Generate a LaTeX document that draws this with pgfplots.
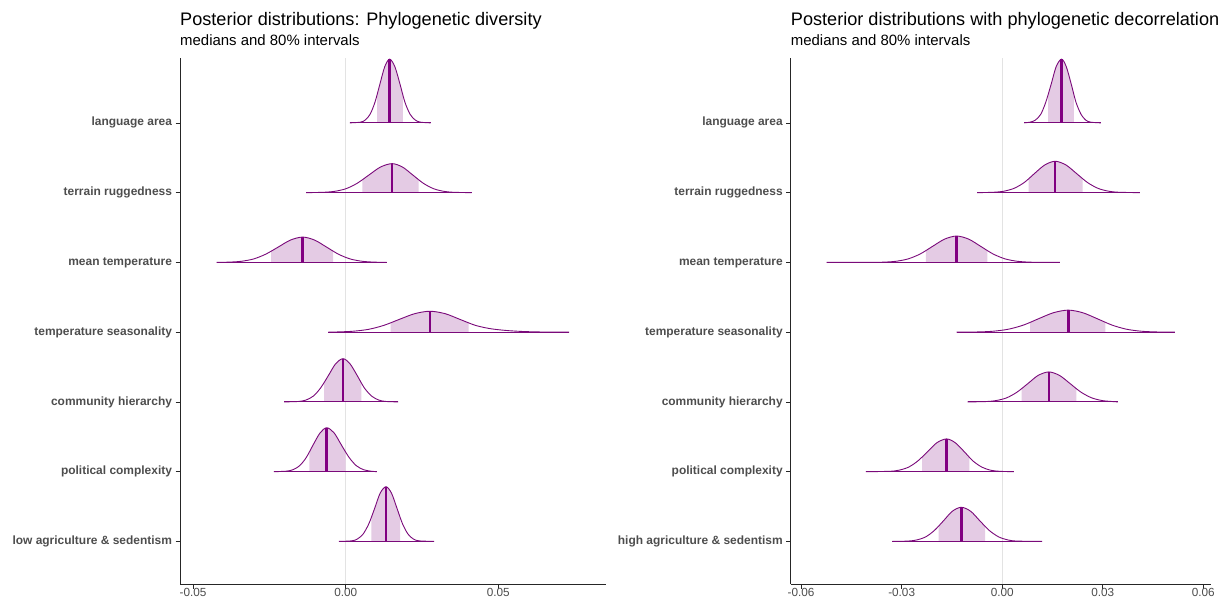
\documentclass[border=0pt]{standalone}
\usepackage{fontspec}
\setmainfont{Liberation Sans}
\usepackage{pgfplots}
\pgfplotsset{compat=1.18}
\definecolor{dens}{HTML}{7A0A7A}
\definecolor{med}{HTML}{800080}
\definecolor{fillc}{HTML}{E4CBE4}
\definecolor{tickc}{HTML}{4D4D4D}
\definecolor{zeroc}{HTML}{E3E3E3}
% #1 base, #2 extL, #3 extR, #4 median, #5 peak, #6 curve, #7 80% interval area
\newcommand\ridge[7]{%
  \addplot[fill=fillc, draw=none] coordinates {#7} -- cycle;
  \addplot[color=dens, line width=0.9bp, smooth] coordinates {#6};
  \addplot[color=dens, line width=1.1bp] coordinates {(#2,#1) (#3,#1)};
  \addplot[color=med, line width=2.6bp] coordinates {(#4,#1) (#4,#5)};
}
\pgfplotsset{
  ridge/.style={
    scale only axis, height=526bp, ymin=0.39, ymax=7.93,
    anchor=south west,
    axis x line*=bottom, axis y line*=left,
    axis line style={-, line width=0.7bp, color=black!85},
    ytick={1,2,3,4,5,6,7},
    yticklabels={low agriculture \& sedentism, political complexity, community hierarchy, temperature seasonality, mean temperature, terrain ruggedness, language area},
    yticklabel style={font=\bfseries\fontsize{12}{13}\selectfont, text=tickc},
    xticklabel style={font=\fontsize{11.8}{13}\selectfont, text=tickc, inner sep=0pt},
    scaled x ticks=false,
    tick style={black!85, line width=0.6bp},
    tick align=outside, major tick length=4.5bp,
    /pgf/number format/assume math mode=true,
    clip=false,
  }
}
\begin{document}
\begin{tikzpicture}
\useasboundingbox (0,0) rectangle (1225bp,603bp);
\begin{axis}[ridge, at={(180bp,19bp)}, width=426bp, xmin=-0.0543, xmax=0.0853,
  xtick={-0.05,0,0.05}, xticklabels={-0.05,0.00,0.05}]
\addplot[zeroc, line width=0.6bp] coordinates {(0,0.39) (0,7.93)};
\ridge{7}{0.0014}{0.0278}{0.0144}{7.914}{(0.0014,7) (0.0048,7.0101) (0.0064,7.0401) (0.0080,7.1237) (0.0096,7.2968) (0.0112,7.5543) (0.0128,7.8066) (0.0144,7.914) (0.0161,7.8066) (0.0178,7.5543) (0.0194,7.2968) (0.0211,7.1237) (0.0228,7.0401) (0.0245,7.0101) (0.0278,7)}{(0.0103,7) (0.0103,7.4021) (0.0112,7.5543) (0.0120,7.6899) (0.0128,7.8066) (0.0136,7.8858) (0.0144,7.914) (0.0152,7.8858) (0.0161,7.8066) (0.0169,7.6899) (0.0178,7.5543) (0.0187,7.4021) (0.0187,7)}
\ridge{6}{-0.0130}{0.0413}{0.0152}{6.416}{(-0.0130,6) (-0.0075,6.0046) (-0.0037,6.0183) (0.0001,6.0563) (0.0038,6.1351) (0.0076,6.2523) (0.0114,6.3671) (0.0152,6.416) (0.0186,6.3671) (0.0220,6.2523) (0.0254,6.1351) (0.0288,6.0563) (0.0322,6.0183) (0.0356,6.0046) (0.0413,6)}{(0.0055,6) (0.0055,6.1830) (0.0076,6.2523) (0.0095,6.3140) (0.0114,6.3671) (0.0133,6.4032) (0.0152,6.416) (0.0169,6.4032) (0.0186,6.3671) (0.0203,6.3140) (0.0220,6.2523) (0.0239,6.1830) (0.0239,6)}
\ridge{5}{-0.0423}{0.0134}{-0.0141}{5.363}{(-0.0423,5) (-0.0382,5.0040) (-0.0342,5.0159) (-0.0302,5.0491) (-0.0262,5.1179) (-0.0221,5.2202) (-0.0181,5.3203) (-0.0141,5.363) (-0.0102,5.3203) (-0.0063,5.2202) (-0.0024,5.1179) (0.0015,5.0491) (0.0054,5.0159) (0.0093,5.0040) (0.0134,5)}{(-0.0244,5) (-0.0244,5.1597) (-0.0221,5.2202) (-0.0201,5.2740) (-0.0181,5.3203) (-0.0161,5.3518) (-0.0141,5.363) (-0.0122,5.3518) (-0.0102,5.3203) (-0.0083,5.2740) (-0.0063,5.2202) (-0.0041,5.1597) (-0.0041,5)}
\ridge{4}{-0.0057}{0.0732}{0.0276}{4.30}{(-0.0057,4) (-0.0026,4.0033) (0.0024,4.0132) (0.0075,4.0406) (0.0125,4.0974) (0.0175,4.1820) (0.0226,4.2648) (0.0276,4.30) (0.0326,4.2648) (0.0375,4.1820) (0.0425,4.0974) (0.0474,4.050) (0.0524,4.025) (0.0573,4.011) (0.0623,4.004) (0.0672,4.0013) (0.0732,4)}{(0.0147,4) (0.0147,4.1320) (0.0175,4.1820) (0.0200,4.2264) (0.0226,4.2648) (0.0251,4.2908) (0.0276,4.30) (0.0301,4.2908) (0.0326,4.2648) (0.0350,4.2264) (0.0375,4.1820) (0.0403,4.1320) (0.0403,4)}
\ridge{3}{-0.0202}{0.0172}{-0.0009}{3.62}{(-0.0202,3) (-0.0154,3.0069) (-0.0130,3.0272) (-0.0106,3.0839) (-0.0082,3.2013) (-0.0057,3.3760) (-0.0033,3.5472) (-0.0009,3.62) (0.0014,3.5472) (0.0038,3.3760) (0.0061,3.2013) (0.0085,3.0839) (0.0108,3.0272) (0.0131,3.0069) (0.0172,3)}{(-0.0071,3) (-0.0071,3.2727) (-0.0057,3.3760) (-0.0045,3.4680) (-0.0033,3.5472) (-0.0021,3.6009) (-0.0009,3.62) (0.0003,3.6009) (0.0014,3.5472) (0.0026,3.4680) (0.0038,3.3760) (0.0051,3.2727) (0.0051,3)}
\ridge{2}{-0.0235}{0.0102}{-0.0062}{2.63}{(-0.0235,2) (-0.0196,2.0070) (-0.0173,2.0277) (-0.0151,2.0852) (-0.0129,2.2046) (-0.0107,2.3821) (-0.0084,2.5560) (-0.0062,2.63) (-0.0038,2.5560) (-0.0014,2.3821) (0.0011,2.2046) (0.0035,2.0852) (0.0059,2.0277) (0.0083,2.0070) (0.0102,2)}{(-0.0119,2) (-0.0119,2.2771) (-0.0107,2.3821) (-0.0095,2.4755) (-0.0084,2.5560) (-0.0073,2.6106) (-0.0062,2.63) (-0.0050,2.6106) (-0.0038,2.5560) (-0.0026,2.4755) (-0.0014,2.3821) (0.0000,2.2771) (0.0000,2)}
\ridge{1}{-0.0022}{0.0290}{0.0132}{1.785}{(-0.0022,1) (0.0020,1.0087) (0.0038,1.0345) (0.0057,1.1062) (0.0076,1.2549) (0.0095,1.4761) (0.0113,1.6928) (0.0132,1.785) (0.0150,1.6928) (0.0168,1.4761) (0.0186,1.2549) (0.0204,1.1062) (0.0222,1.0345) (0.0240,1.0087) (0.0290,1)}{(0.0084,1) (0.0084,1.3453) (0.0095,1.4761) (0.0104,1.5925) (0.0113,1.6928) (0.0123,1.7608) (0.0132,1.785) (0.0141,1.7608) (0.0150,1.6928) (0.0159,1.5925) (0.0168,1.4761) (0.0178,1.3453) (0.0178,1)}
\end{axis}
\begin{axis}[ridge, at={(790.7bp,19bp)}, width=420bp, xmin=-0.0631, xmax=0.0622,
  xtick={-0.06,-0.03,0,0.03,0.06}, xticklabels={-0.06,-0.03,0.00,0.03,0.06},
  yticklabels={high agriculture \& sedentism, political complexity, community hierarchy, temperature seasonality, mean temperature, terrain ruggedness, language area}]
\addplot[zeroc, line width=0.6bp] coordinates {(0,0.39) (0,7.93)};
\ridge{7}{0.0066}{0.0294}{0.0177}{7.914}{(0.0066,7) (0.0083,7.0101) (0.0099,7.0401) (0.0115,7.1237) (0.0130,7.2968) (0.0146,7.5543) (0.0161,7.8066) (0.0177,7.914) (0.0191,7.8066) (0.0206,7.5543) (0.0220,7.2968) (0.0235,7.1237) (0.0249,7.0401) (0.0264,7.0101) (0.0294,7)}{(0.0137,7) (0.0137,7.4021) (0.0146,7.5543) (0.0154,7.6899) (0.0161,7.8066) (0.0169,7.8858) (0.0177,7.914) (0.0184,7.8858) (0.0191,7.8066) (0.0199,7.6899) (0.0206,7.5543) (0.0214,7.4021) (0.0214,7)}
\ridge{6}{-0.0075}{0.0411}{0.0158}{6.45}{(-0.0075,6) (-0.0027,6.0050) (0.0004,6.0198) (0.0035,6.0609) (0.0066,6.1461) (0.0096,6.2729) (0.0127,6.3971) (0.0158,6.45) (0.0190,6.3971) (0.0222,6.2729) (0.0254,6.1461) (0.0286,6.0609) (0.0318,6.0198) (0.0350,6.0050) (0.0411,6)}{(0.0079,6) (0.0079,6.1980) (0.0096,6.2729) (0.0112,6.3397) (0.0127,6.3971) (0.0143,6.4361) (0.0158,6.45) (0.0174,6.4361) (0.0190,6.3971) (0.0206,6.3397) (0.0222,6.2729) (0.0240,6.1980) (0.0240,6)}
\ridge{5}{-0.0524}{0.0172}{-0.0136}{5.378}{(-0.0524,5) (-0.0387,5.0008) (-0.0351,5.0042) (-0.0316,5.0166) (-0.0280,5.0511) (-0.0244,5.1227) (-0.0208,5.2293) (-0.0172,5.3336) (-0.0136,5.378) (-0.0100,5.3336) (-0.0064,5.2293) (-0.0028,5.1227) (0.0008,5.0511) (0.0044,5.0166) (0.0079,5.0042) (0.0115,5.0008) (0.0172,5)}{(-0.0228,5) (-0.0228,5.1663) (-0.0208,5.2293) (-0.0190,5.2853) (-0.0172,5.3336) (-0.0154,5.3664) (-0.0136,5.378) (-0.0118,5.3664) (-0.0100,5.3336) (-0.0082,5.2853) (-0.0064,5.2293) (-0.0044,5.1663) (-0.0044,5)}
\ridge{4}{-0.0136}{0.0515}{0.0197}{4.316}{(-0.0136,4) (-0.0070,4.0035) (-0.0026,4.0139) (0.0019,4.0428) (0.0064,4.1026) (0.0108,4.1917) (0.0153,4.2789) (0.0197,4.316) (0.0240,4.2789) (0.0284,4.1917) (0.0327,4.1026) (0.0370,4.0428) (0.0414,4.0139) (0.0457,4.0035) (0.0515,4)}{(0.0083,4) (0.0083,4.1390) (0.0108,4.1917) (0.0130,4.2385) (0.0153,4.2789) (0.0175,4.3063) (0.0197,4.316) (0.0219,4.3063) (0.0240,4.2789) (0.0262,4.2385) (0.0284,4.1917) (0.0308,4.1390) (0.0308,4)}
\ridge{3}{-0.0103}{0.0345}{0.0139}{3.43}{(-0.0103,3) (-0.0051,3.0048) (-0.0019,3.0189) (0.0013,3.0582) (0.0044,3.1396) (0.0076,3.2608) (0.0107,3.3795) (0.0139,3.43) (0.0171,3.3795) (0.0203,3.2608) (0.0235,3.1396) (0.0267,3.0582) (0.0299,3.0189) (0.0331,3.0048) (0.0345,3)}{(0.0058,3) (0.0058,3.1892) (0.0076,3.2608) (0.0092,3.3246) (0.0107,3.3795) (0.0123,3.4168) (0.0139,3.43) (0.0155,3.4168) (0.0171,3.3795) (0.0187,3.3246) (0.0203,3.2608) (0.0221,3.1892) (0.0221,3)}
\ridge{2}{-0.0407}{0.0035}{-0.0166}{2.47}{(-0.0407,2) (-0.0337,2.0052) (-0.0309,2.0206) (-0.0280,2.0636) (-0.0252,2.1526) (-0.0223,2.2851) (-0.0195,2.4148) (-0.0166,2.47) (-0.0140,2.4148) (-0.0113,2.2851) (-0.0087,2.1526) (-0.0060,2.0636) (-0.0034,2.0206) (-0.0007,2.0052) (0.0035,2)}{(-0.0239,2) (-0.0239,2.2068) (-0.0223,2.2851) (-0.0209,2.3548) (-0.0195,2.4148) (-0.0180,2.4555) (-0.0166,2.47) (-0.0153,2.4555) (-0.0140,2.4148) (-0.0126,2.3548) (-0.0113,2.2851) (-0.0098,2.2068) (-0.0098,2)}
\ridge{1}{-0.0328}{0.0119}{-0.0122}{1.49}{(-0.0328,1) (-0.0281,1.0054) (-0.0255,1.0215) (-0.0228,1.0663) (-0.0202,1.1591) (-0.0175,1.2972) (-0.0149,1.4324) (-0.0122,1.49) (-0.0094,1.4324) (-0.0067,1.2972) (-0.0039,1.1591) (-0.0011,1.0663) (0.0017,1.0215) (0.0044,1.0054) (0.0119,1)}{(-0.0190,1) (-0.0190,1.2156) (-0.0175,1.2972) (-0.0162,1.3699) (-0.0149,1.4324) (-0.0135,1.4749) (-0.0122,1.49) (-0.0108,1.4749) (-0.0094,1.4324) (-0.0080,1.3699) (-0.0067,1.2972) (-0.0051,1.2156) (-0.0051,1)}
\end{axis}
\node[anchor=base west, inner sep=0pt, font=\fontsize{18.2}{21}\selectfont] at (180bp,577bp) {Posterior distributions: Phylogenetic diversity};
\node[anchor=base west, inner sep=0pt, font=\fontsize{15}{18}\selectfont] at (180bp,557bp) {medians and 80\% intervals};
\node[anchor=base west, inner sep=0pt, font=\fontsize{18.2}{21}\selectfont] at (790.7bp,577bp) {Posterior distributions with phylogenetic decorrelation};
\node[anchor=base west, inner sep=0pt, font=\fontsize{15}{18}\selectfont] at (790.7bp,557bp) {medians and 80\% intervals};
\end{tikzpicture}
\end{document}
